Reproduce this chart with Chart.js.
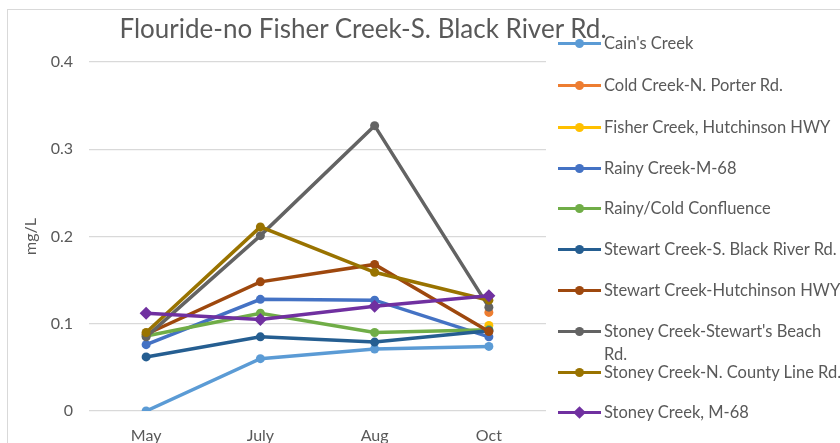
<!DOCTYPE html>
<html>
<head>
<meta charset="utf-8">
<script src="https://cdn.jsdelivr.net/npm/chart.js@4.4.1/dist/chart.umd.min.js"></script>
<style>
  html, body { margin: 0; padding: 0; background: #fff; overflow: hidden; }
  #wrap { position: relative; width: 840px; height: 443px; overflow: hidden; font-family: Lato, "Open Sans", sans-serif; color: #595959; }
  #frame { position: absolute; left: 7px; top: 9px; width: 900px; height: 500px; border: 1px solid #d9d9d9; }
  #chart { position: absolute; left: 0; top: 0; }
  #title { position: absolute; top: 12px; left: 0; width: 726px; text-align: center; font-size: 26px; white-space: nowrap; }
  .item { position: absolute; left: 558px; height: 20px; }
  .item .ln { position: absolute; left: 0; top: -1.5px; width: 43px; height: 3px; }
  .item .mk { position: absolute; }
  .item .tx { position: absolute; left: 46px; top: -11px; font-size: 16.5px; line-height: 23px; white-space: pre; }
</style>
</head>
<body>
<div id="wrap">
  <div id="frame"></div>
  <canvas id="chart" width="840" height="443"></canvas>
  <div id="title">Flouride-no Fisher Creek-S. Black River Rd.</div>
  <div id="legend"></div>
</div>
<script>
// ---------------------------------------------------------------------------
// Data
// ---------------------------------------------------------------------------
const months = ['May', 'July', 'Aug', 'Oct'];

const cainsCreek          = [0.000, 0.060, 0.071, 0.074];
const coldCreekPorter     = [null, null, null, 0.113];
const fisherCreekHutch    = [null, null, null, 0.098];
const rainyCreekM68       = [0.076, 0.128, 0.127, 0.085];
const rainyColdConfluence = [0.086, 0.112, 0.090, 0.093];
const stewartBlackRiver   = [0.062, 0.085, 0.079, 0.092];
const stewartHutchinson   = [0.088, 0.148, 0.168, 0.091];
const stoneyStewartsBeach = [0.085, 0.201, 0.327, 0.119];
const stoneyCountyLine    = [0.090, 0.211, 0.159, 0.127];
const stoneyM68           = [0.112, 0.105, 0.120, 0.132];

const seriesNames = [
  "Cain's Creek",
  'Cold Creek-N. Porter Rd.',
  'Fisher Creek, Hutchinson HWY',
  'Rainy Creek-M-68',
  'Rainy/Cold Confluence',
  'Stewart Creek-S. Black River Rd.',
  'Stewart Creek-Hutchinson HWY',
  "Stoney Creek-Stewart's Beach Rd.",
  'Stoney Creek-N. County Line Rd.',
  'Stoney Creek, M-68'
];
// legend text as it wraps in the original
const legendText = seriesNames.map(n => n === "Stoney Creek-Stewart's Beach Rd." ? "Stoney Creek-Stewart's Beach\nRd." : n);

const seriesValues = [
  cainsCreek, coldCreekPorter, fisherCreekHutch, rainyCreekM68, rainyColdConfluence,
  stewartBlackRiver, stewartHutchinson, stoneyStewartsBeach, stoneyCountyLine, stoneyM68
];

const yTicks = [0, 0.1, 0.2, 0.3, 0.4];

// ---------------------------------------------------------------------------
// Styling
// ---------------------------------------------------------------------------
const COLORS = ['#5B9BD5', '#ED7D31', '#FFC000', '#4472C4', '#70AD47',
                '#255E91', '#9E480E', '#636363', '#997300', '#7030A0'];
const POINT_STYLES = ['circle', 'circle', 'circle', 'circle', 'circle',
                      'circle', 'circle', 'circle', 'circle', 'rectRot'];
const TEXT = '#595959';
const GRID = '#d9d9d9';
const FONT = 'Lato, "Open Sans", sans-serif';

const datasets = seriesValues.map((data, i) => ({
  label: seriesNames[i],
  data,
  borderColor: COLORS[i],
  backgroundColor: COLORS[i],
  borderWidth: 3.5,
  pointStyle: POINT_STYLES[i],
  pointRadius: POINT_STYLES[i] === 'rectRot' ? 6.5 : 4.5,
  pointBorderWidth: 0,
  pointHoverRadius: 5,
  tension: 0,
  spanGaps: false,
  order: seriesValues.length - 1 - i   // later series drawn on top, like the original
}));

new Chart(document.getElementById('chart'), {
  type: 'line',
  data: { labels: months, datasets },
  options: {
    responsive: false,
    animation: false,
    events: [],
    layout: { padding: { left: 0, right: 294, top: 62, bottom: 0 } },
    plugins: {
      legend: { display: false },
      title: { display: false },
      tooltip: { enabled: false }
    },
    scales: {
      x: {
        offset: true,
        grid: { display: false, drawTicks: false },
        border: { display: false },
        ticks: { color: TEXT, font: { family: FONT, size: 16 }, padding: 15 },
        afterFit: s => { s.height = 32; }
      },
      y: {
        min: 0,
        max: 0.4,
        afterBuildTicks: s => { s.ticks = yTicks.map(v => ({ value: v })); },
        grid: { color: GRID, lineWidth: 1.3, drawTicks: false },
        border: { display: false },
        ticks: { color: TEXT, font: { family: FONT, size: 16 }, padding: 16,
                 callback: v => String(Math.round(v * 10) / 10) },
        title: { display: true, text: 'mg/L', color: TEXT, font: { family: FONT, size: 16 },
                 padding: { top: 21, bottom: 0 } },
        afterFit: s => { s.width = 89; }
      }
    }
  }
});

// ---------------------------------------------------------------------------
// Legend (HTML, one row per series)
// ---------------------------------------------------------------------------
const legendRows = [43, 85, 127, 168, 208, 249, 290, 331, 372, 412];
const legend = document.getElementById('legend');
seriesNames.forEach((name, i) => {
  const item = document.createElement('div');
  item.className = 'item';
  item.style.top = legendRows[i] + 'px';
  const ln = document.createElement('div');
  ln.className = 'ln';
  ln.style.background = COLORS[i];
  const mk = document.createElement('div');
  mk.className = 'mk';
  mk.style.background = COLORS[i];
  if (POINT_STYLES[i] === 'rectRot') {
    Object.assign(mk.style, { left: '17px', top: '-4.5px', width: '9px', height: '9px', transform: 'rotate(45deg)' });
  } else {
    Object.assign(mk.style, { left: '17px', top: '-4.5px', width: '9px', height: '9px', borderRadius: '50%' });
  }
  const tx = document.createElement('div');
  tx.className = 'tx';
  tx.textContent = legendText[i];
  item.append(ln, mk, tx);
  legend.appendChild(item);
});
</script>
</body>
</html>
